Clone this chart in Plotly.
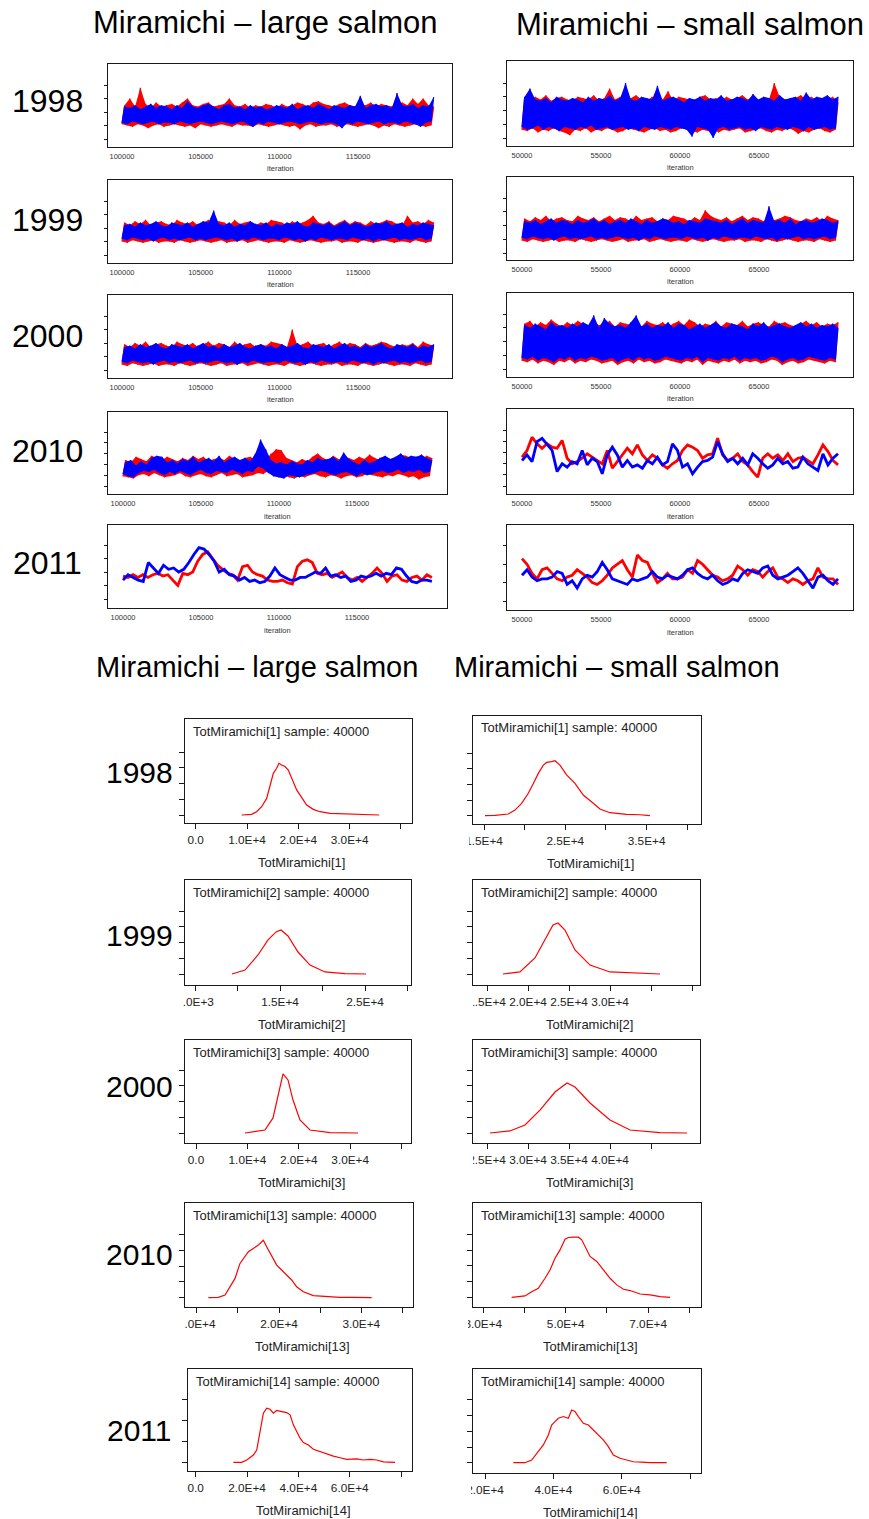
import numpy as np
import plotly.graph_objects as go

W, H = 869, 1519
FONT = "Liberation Sans, Arial, Helvetica, sans-serif"
RED, BLUE, INK = "#ff0000", "#0000ff", "#1a1a1a"

# ---------------- MCMC trace chains ----------------
# All trace values are in tenths of one y-tick interval of their panel.
# Fast-mixing chains: the low and high excursions of each chain, per iteration bin.
large_1998_blue_hi = [24,23,25,22,24,26,23,25,24,22,25,23,28,24,23,25,26,24,22,25,26,23,24,22,25,23,24,22,23,25,
                      24,23,26,22,24,25,23,26,24,22,25,24,23,25,24,32,23,25,26,24,25,23,34,25,24,26,23,25,24,31]
large_1998_blue_lo = [12,11,13,12,11,12,13,11,12,12,11,13,12,11,12,13,12,11,12,13,12,11,12,13,11,9,12,11,13,12,
                      11,12,13,12,11,12,13,12,11,12,12,11,8,12,11,13,12,11,12,13,11,12,12,11,13,12,11,9,12,13]
large_1998_red_hi = [25,30,24,38,26,23,27,24,25,26,24,27,30,25,24,26,27,24,25,26,30,25,24,26,23,25,24,26,25,23,
                     26,24,25,27,26,24,27,28,26,25,24,26,27,25,24,26,25,27,24,26,25,24,26,27,25,30,26,30,25,24]
large_1998_red_lo = [11,10,9,11,10,8,10,11,9,10,11,10,9,10,8,11,10,9,10,11,10,9,11,10,10,9,11,10,9,10,
                     11,10,9,10,7,10,11,9,10,10,11,9,10,11,10,9,10,11,10,8,10,9,11,10,9,10,11,10,9,10]

small_1998_blue_hi = [30,36,28,27,29,26,30,28,27,29,28,26,30,27,29,28,31,27,29,40,28,27,30,29,28,38,27,29,30,28,
                      26,29,28,30,27,29,28,31,27,28,30,29,27,32,28,30,29,27,31,28,29,30,27,33,28,30,29,31,28,30]
small_1998_blue_lo = [8,6,7,9,6,8,7,5,8,7,6,8,7,9,6,7,8,6,7,8,6,7,5,8,7,6,8,7,6,8,
                      7,6,1,8,7,6,0,7,8,6,7,8,6,7,5,8,7,6,8,7,6,8,7,5,8,6,7,8,6,7]
small_1998_red_hi = [29,27,30,28,31,27,29,30,28,27,30,29,28,31,27,29,36,28,30,27,29,31,28,27,30,29,28,34,27,30,
                     29,28,27,30,31,28,29,27,30,28,29,31,28,30,27,29,28,40,30,28,27,29,31,28,30,27,29,28,30,26]
small_1998_red_lo = [6,5,7,4,6,5,7,5,4,2,6,5,7,4,6,5,7,6,4,5,7,6,5,4,6,7,5,6,4,5,
                     7,6,5,4,6,5,7,4,6,5,6,7,4,5,6,7,5,4,6,5,7,6,3,5,4,6,7,5,4,6]

large_1999_blue_hi = [22,23,21,24,22,23,25,22,21,24,23,22,24,21,23,25,24,33,23,22,24,21,23,22,25,23,22,24,21,23,
                      22,24,23,25,22,21,24,23,22,24,21,23,25,22,24,23,21,22,24,23,25,22,23,24,21,23,22,24,23,22]
large_1999_blue_lo = [12,11,13,12,11,12,10,12,13,11,12,11,12,13,11,12,11,12,13,12,11,12,10,12,11,13,12,11,12,12,
                      11,13,12,11,12,10,12,11,13,12,11,12,12,11,13,12,11,12,10,12,11,12,13,11,12,11,12,13,11,12]
large_1999_red_hi = [24,22,25,23,26,22,24,25,23,22,26,24,23,25,22,24,26,23,25,24,22,26,23,24,25,22,24,23,26,25,
                     24,22,25,23,24,26,29,24,23,25,22,24,26,23,25,24,22,25,23,24,26,25,23,22,29,24,25,23,26,24]
large_1999_red_lo = [10,9,11,10,9,10,11,9,10,10,9,11,10,9,10,11,10,9,10,11,9,10,10,11,9,10,11,10,9,10,
                     10,9,11,10,9,10,11,10,9,10,10,11,9,10,10,9,11,10,9,10,11,10,9,10,10,9,11,10,9,10]

small_1999_blue_hi = [23,22,24,21,23,25,22,24,23,21,24,22,23,25,22,24,21,23,24,22,25,23,21,24,22,23,25,24,22,23,
                      21,24,23,22,25,24,23,22,24,21,23,25,22,24,23,22,34,23,24,22,25,21,23,24,22,23,25,24,22,23]
small_1999_blue_lo = [11,10,12,11,10,11,9,11,12,10,11,10,11,12,10,11,10,11,12,11,10,11,9,11,10,12,11,10,11,11,
                      10,12,11,10,11,9,11,10,12,11,10,11,11,10,12,11,10,11,9,11,10,11,12,10,11,10,11,12,10,11]
small_1999_red_hi = [25,23,26,24,27,23,25,26,24,23,27,25,24,26,23,25,27,24,26,25,23,27,24,25,26,23,25,24,27,26,
                     25,23,26,24,31,27,25,24,26,23,25,27,24,26,25,23,26,24,25,27,26,24,23,25,24,26,23,27,25,24]
small_1999_red_lo = [9,8,10,9,8,9,10,8,9,9,8,10,9,8,9,10,9,8,9,10,8,9,9,10,8,9,10,9,8,9,
                     9,8,10,9,8,9,10,9,8,9,9,10,8,9,9,8,10,9,8,9,10,9,8,9,9,8,10,9,8,9]

large_2000_blue_hi = [17,18,16,19,17,18,20,17,16,19,18,17,19,16,18,20,17,18,16,19,17,18,20,17,16,18,19,17,18,16,
                      19,17,18,20,17,16,19,18,17,19,16,18,20,17,18,16,19,17,18,20,17,16,19,18,17,19,16,18,17,19]
large_2000_blue_lo = [6,5,7,6,5,6,4,6,7,5,6,5,6,7,5,6,5,6,7,6,5,6,4,6,5,7,6,5,6,6,
                      5,7,6,5,6,4,6,5,7,6,5,6,6,5,7,6,5,6,4,6,5,6,7,5,6,5,6,7,5,6]
large_2000_red_hi = [19,17,20,18,21,17,19,20,18,17,21,19,18,20,17,19,21,18,20,19,17,21,18,19,20,17,19,18,21,20,
                     19,17,30,18,19,21,18,19,20,17,19,21,18,20,19,17,20,18,19,21,20,18,17,19,18,20,17,21,19,18]
large_2000_red_lo = [4,3,5,4,3,4,5,3,4,4,3,5,4,3,4,5,4,3,4,5,3,4,4,5,3,4,5,4,3,4,
                     4,3,5,4,3,4,5,4,3,4,4,5,3,4,4,3,5,4,3,4,5,4,3,4,4,3,5,4,3,4]

small_2000_blue_hi = [32,30,33,31,29,34,31,32,30,33,31,34,32,39,30,37,33,31,32,30,34,39,31,33,30,32,31,34,30,33,
                      32,29,31,33,30,32,34,31,30,33,32,31,29,33,31,34,30,32,33,31,30,32,34,31,33,30,32,31,33,30]
small_2000_blue_lo = [8,7,9,6,8,7,5,8,7,9,6,8,7,9,8,6,7,8,5,7,8,6,9,7,8,6,7,9,8,7,
                      6,8,7,9,5,8,7,6,8,7,9,6,8,7,8,6,7,9,8,5,7,8,6,7,9,8,7,6,8,7]
small_2000_red_hi = [33,35,31,34,32,36,33,31,34,32,35,33,31,34,32,33,35,31,34,33,32,34,31,35,33,32,34,31,33,35,
                     32,36,34,31,33,32,35,31,34,33,32,35,31,33,34,32,31,35,33,34,32,31,33,35,32,34,31,33,32,34]
small_2000_red_lo = [6,5,7,4,6,5,3,6,5,7,4,6,5,7,6,4,5,6,3,5,6,4,7,5,6,4,5,7,6,5,
                     4,6,5,7,3,6,5,4,6,5,7,4,6,5,6,4,5,7,6,3,5,6,4,5,7,6,5,4,6,5]

large_2010_blue_hi = [22,24,19,23,20,26,28,27,22,24,21,25,23,27,22,24,26,23,28,22,25,27,24,26,23,30,43,34,24,21,
                      22,20,23,21,20,24,22,26,24,25,27,23,31,25,22,20,24,21,23,26,28,25,27,30,26,28,27,29,26,24]
large_2010_blue_lo = [11,9,8,12,14,13,15,12,10,13,11,14,12,10,13,15,12,11,14,13,12,15,13,11,14,13,18,16,12,9,
                      8,7,10,9,8,10,11,12,14,13,11,10,12,13,11,9,12,10,11,13,14,12,13,15,12,14,13,15,12,13]
large_2010_red_hi = [24,22,27,25,23,28,26,24,27,25,23,26,24,28,25,27,23,25,26,24,28,25,23,26,27,24,26,25,30,34,
                     33,26,24,22,25,23,27,30,26,24,28,25,23,26,24,27,25,29,26,24,27,25,26,29,28,26,27,25,28,26]
large_2010_red_lo = [9,8,7,10,11,9,12,10,8,9,10,12,9,8,10,11,9,8,10,12,9,10,11,8,9,10,12,11,14,16,
                     15,10,8,7,9,8,10,11,9,8,10,9,7,9,10,8,9,11,10,9,8,10,9,11,10,8,9,6,8,9]

# Slow-mixing chains: the chain path itself.
small_2010_red = [26,32,44,38,34,38,35,34,41,25,20,22,25,29,26,23,20,32,16,22,28,34,29,37,28,23,28,25,19,16,20,23,
                  32,37,35,32,25,28,29,43,28,23,25,29,22,19,13,8,25,29,25,28,23,29,22,25,26,23,20,28,37,31,23,19]
small_2010_blue = [23,28,22,40,43,38,32,13,20,17,22,20,32,19,25,22,11,28,35,28,17,23,17,19,16,23,20,26,19,22,38,32,
                   17,20,11,17,22,23,26,40,29,22,25,20,25,19,29,25,20,16,19,25,20,22,16,17,26,20,17,14,29,19,25,29]
large_2011_red = [17,16,18,16,18,16,18,19,17,18,14,10,19,18,20,28,33,35,30,25,22,19,18,14,24,25,20,18,17,14,13,13,
                  14,12,11,24,28,29,27,19,18,19,16,18,20,16,14,16,13,16,19,23,19,13,17,18,14,13,16,17,14,18,16]
large_2011_blue = [14,18,16,14,13,27,23,19,25,22,23,20,22,27,33,38,37,33,28,20,22,18,17,14,16,13,14,12,13,17,23,18,
                   16,14,14,16,16,18,20,19,23,17,18,16,17,13,14,17,16,17,19,17,19,18,23,22,17,13,12,14,14,13]
small_2011_red = [23,20,15,12,17,18,15,12,11,13,14,17,15,13,10,9,11,14,18,20,22,17,13,25,22,21,15,10,12,15,12,12,
                  13,17,15,22,20,17,14,13,11,12,14,19,17,14,17,16,13,16,18,13,12,10,12,11,9,11,12,18,13,12,12,9]
small_2011_blue = [14,17,13,11,12,12,13,16,15,9,11,7,12,14,13,16,21,17,12,11,10,9,12,11,12,13,16,13,12,14,13,12,
                   14,17,18,15,13,12,14,11,9,10,12,11,15,17,16,15,18,19,14,12,13,14,16,18,15,11,7,13,14,11,9,12]

large_iter = (100000, 119800)
small_iter = (50000, 70000)

# ---------------- posterior densities (y in y-tick units) ----------------
dens_large_1998_x = [8960,10910,11880,12860,13830,14480,15130,15780,16230,16750,17400,18050,18700,19680,20650,21620,22920,24220,26170,30070,33310,35780]
dens_large_1998_y = [0,0.04,0.21,0.53,1.06,1.81,2.66,2.98,3.30,3.19,3.09,2.87,2.34,1.60,1.13,0.64,0.36,0.21,0.11,0.06,0.02,0]
dens_small_1998_x = [15120,16350,17990,18810,19630,20450,21070,21680,22300,22710,23320,23730,24340,25160,26190,27210,28440,29260,30490,32540,34180,34800,35410]
dens_small_1998_y = [0,0.02,0.11,0.36,0.79,1.43,2.06,2.70,3.23,3.40,3.45,3.51,3.23,2.60,2.06,1.32,0.79,0.43,0.19,0.09,0.06,0.02,0]
dens_large_1999_x = [9350,10880,12410,13590,14530,15120,15940,17120,18530,20290,22650,25120]
dens_large_1999_y = [0,0.25,1.21,2.17,2.68,2.80,2.42,1.40,0.57,0.13,0.02,0]
dens_small_1999_x = [16950,19020,20850,22070,23050,23660,24510,25730,27560,30000,36100]
dens_small_1999_y = [0,0.13,1.02,2.17,3.12,3.25,2.80,1.53,0.57,0.13,0]
dens_large_2000_x = [9530,13420,14980,15950,16930,17900,18870,20230,22180,26070,31520]
dens_large_2000_y = [0,0.19,0.96,2.42,3.76,3.38,2.10,0.83,0.19,0.02,0]
dens_small_2000_x = [25370,27800,29630,31460,33290,34760,35730,37560,40000,42440,46100,49390]
dens_small_2000_y = [0,0.13,0.51,1.46,2.61,3.18,2.93,1.91,0.83,0.19,0.02,0]
dens_large_2010_x = [11420,12630,13440,14050,14660,15260,15670,16280,16880,17490,17900,18100,18500,19110,19720,20320,20930,21540,22150,22960,24170,25790,27410,29030,30650,31260]
dens_large_2010_y = [0,0.02,0.17,0.69,1.22,2.17,2.48,2.91,3.12,3.33,3.54,3.64,3.22,2.59,2.06,1.75,1.43,1.12,0.69,0.38,0.13,0.06,0.02,0.02,0.02,0]
dens_small_2010_x = [36880,38500,40120,41740,43360,44980,46190,47410,48620,49840,50650,51860,53080,53890,54700,55910,57530,59150,60770,62390,64010,65630,68060,70490,72920,75340]
dens_small_2010_y = [0,0.04,0.09,0.36,0.57,1.21,1.74,2.49,3.02,3.70,3.81,3.83,3.83,3.66,3.23,2.60,2.28,1.74,1.21,0.79,0.51,0.43,0.21,0.15,0.04,0]
dens_large_2011_x = [14680,17920,19870,22470,23770,25070,26360,27660,28960,30260,31560,33510,35460,36750,38050,39350,40650,41950,43900,45840,48440,51040,53640,56230,58830,62730,65330,67920,70520,73120,77660]
dens_large_2011_y = [0,0,0.11,0.35,0.59,1.56,2.36,2.60,2.55,2.36,2.49,2.44,2.39,2.28,1.80,1.48,1.16,0.95,0.83,0.63,0.51,0.39,0.30,0.22,0.14,0.16,0.11,0.14,0.11,0.02,0]
dens_small_2011_x = [28290,31710,33660,35120,37070,38540,39510,40490,41460,42930,44390,45370,46340,47320,48780,50240,51710,53170,54630,56100,57560,59510,61460,63410,65850,68290,73170]
dens_small_2011_y = [0,0,0.17,0.60,1.13,1.77,2.40,2.62,2.83,2.94,2.83,3.36,3.26,2.94,2.51,2.40,2.09,1.77,1.45,1.02,0.49,0.28,0.17,0.06,0.04,0,0]

years = ["1998", "1999", "2000", "2010", "2011"]
node_index = ["1", "2", "3", "13", "14"]
title_large = "Miramichi – large salmon"
title_small = "Miramichi – small salmon"
large_iter_ticks = [100000, 105000, 110000, 115000]
small_iter_ticks = [50000, 55000, 60000, 65000]

fig = go.Figure()
annotations = []
shapes = []
counter = [0]


def new_axes(box, xr, yr, xkw, ykw):
    counter[0] += 1
    n = counter[0]
    sx = "" if n == 1 else str(n)
    x0, y0, x1, y1 = box
    base = dict(showline=True, mirror=True, linecolor=INK, linewidth=1, showgrid=False,
                zeroline=False, fixedrange=True, tickcolor=INK, automargin=False)
    fig.update_layout(**{
        "xaxis" + sx: dict(base, domain=[x0 / W, x1 / W], range=xr, anchor="y" + sx, **xkw),
        "yaxis" + sx: dict(base, domain=[1 - y1 / H, 1 - y0 / H], range=yr, anchor="x" + sx, **ykw),
    })
    return "x" + sx, "y" + sx


def px_range(a, b, p0, v0, px_per_unit):
    return [v0 + (a - p0) / px_per_unit, v0 + (b - p0) / px_per_unit]


def text(x, y, s, size, anchor="center", color="#000"):
    annotations.append(dict(x=x / W, y=1 - y / H, xref="paper", yref="paper", text=s, showarrow=False,
                            xanchor=anchor, yanchor="middle", font=dict(family=FONT, size=size, color=color)))


def add_band_chain(lo, hi, it0, it1, col, xa, ya):
    """Excursion band of a fast-mixing chain, with the chain zig-zagging between its extremes."""
    xs = np.linspace(it0, it1, 2 * len(lo))
    x_lo, x_hi = xs[0::2], xs[1::2]
    fig.add_trace(go.Scatter(x=np.concatenate([x_hi, x_lo[::-1]]), y=list(hi) + list(lo)[::-1],
                             mode="lines", fill="toself", fillcolor=col, line=dict(width=0),
                             xaxis=xa, yaxis=ya, showlegend=False, hoverinfo="skip"))
    path = []
    for a, b in zip(lo, hi):
        path += [a, b]
    fig.add_trace(go.Scatter(x=xs, y=path, mode="lines", line=dict(color=col, width=1.2),
                             xaxis=xa, yaxis=ya, showlegend=False, hoverinfo="skip"))


def add_path_chain(vals, it0, it1, col, xa, ya):
    fig.add_trace(go.Scatter(x=np.linspace(it0, it1, len(vals)), y=vals, mode="lines",
                             line=dict(color=col, width=2.8), xaxis=xa, yaxis=ya,
                             showlegend=False, hoverinfo="skip"))


# ---------------- trace panels ----------------
# (column, box, first tick px, px per iteration, baseline y-tick px, px per y tick, n y ticks, chains)
trace_specs = [
    ("large", (108, 64, 452, 147), 122, 78.7 / 5000, 139, 13.5, 5,
     ("band", large_1998_red_lo, large_1998_red_hi, large_1998_blue_lo, large_1998_blue_hi)),
    ("large", (108, 180, 452, 263), 122, 78.7 / 5000, 255, 13.5, 5,
     ("band", large_1999_red_lo, large_1999_red_hi, large_1999_blue_lo, large_1999_blue_hi)),
    ("large", (108, 295, 452, 378), 122, 78.7 / 5000, 370, 13.5, 5,
     ("band", large_2000_red_lo, large_2000_red_hi, large_2000_blue_lo, large_2000_blue_hi)),
    ("large", (108, 412, 447, 494), 123, 78.0 / 5000, 486, 10.8, 6,
     ("band", large_2010_red_lo, large_2010_red_hi, large_2010_blue_lo, large_2010_blue_hi)),
    ("large", (108, 525, 447, 608), 123, 78.0 / 5000, 599, 13.5, 5, ("path", large_2011_red, large_2011_blue)),
    ("small", (507, 61, 853, 146), 522, 79.0 / 5000, 138, 13.75, 5,
     ("band", small_1998_red_lo, small_1998_red_hi, small_1998_blue_lo, small_1998_blue_hi)),
    ("small", (507, 177, 853, 260), 522, 79.0 / 5000, 253, 13.75, 5,
     ("band", small_1999_red_lo, small_1999_red_hi, small_1999_blue_lo, small_1999_blue_hi)),
    ("small", (507, 293, 853, 377), 522, 79.0 / 5000, 369, 13.75, 5,
     ("band", small_2000_red_lo, small_2000_red_hi, small_2000_blue_lo, small_2000_blue_hi)),
    ("small", (507, 409, 853, 494), 522, 79.0 / 5000, 486, 11.1, 6, ("path", small_2010_red, small_2010_blue)),
    ("small", (507, 525, 853, 610), 522, 79.0 / 5000, 601, 18.4, 4, ("path", small_2011_red, small_2011_blue)),
]

for size, box, p0, s, base_px, tick_px, nt, chains in trace_specs:
    x0, y0, x1, y1 = box
    it0, it1 = large_iter if size == "large" else small_iter
    ticks = large_iter_ticks if size == "large" else small_iter_ticks
    xr = px_range(x0, x1, p0, ticks[0], s)
    yr = [-(y1 - base_px) / tick_px * 10, (base_px - y0) / tick_px * 10]
    xa, ya = new_axes(
        box, xr, yr,
        dict(tickmode="array", tickvals=ticks, ticktext=[str(t) for t in ticks], ticks="",
             tickfont=dict(family=FONT, size=7.5, color="#333"), ticklabelstandoff=2),
        dict(tickmode="array", tickvals=[10 * k for k in range(nt)], showticklabels=False,
             ticks="outside", ticklen=3),
    )
    if chains[0] == "band":
        _, rlo, rhi, blo, bhi = chains
        add_band_chain(rlo, rhi, it0, it1, RED, xa, ya)
        add_band_chain(blo, bhi, it0, it1, BLUE, xa, ya)
    else:
        _, red, blue = chains
        add_path_chain(red, it0, it1, RED, xa, ya)
        add_path_chain(blue, it0, it1, BLUE, xa, ya)
    text((x0 + x1) / 2, y1 + 22, "iteration", 7.5, color="#333")


# ---------------- density panels ----------------
def lab(v):
    return "0.0" if v == 0 else "%.1fE+%d" % (v / 10 ** int(np.log10(v)), int(np.log10(v)))


# (box, ref tick px, ref tick value, px per 10000, baseline px, px per y tick, n y ticks,
#  x tick values, labelled ticks, data x, data y, left crop edge px)
dens_specs = [
    ((185, 719, 412, 823), 195.7, 0, 51.3, 815, 15.67, 5,
     [0, 10000, 20000, 30000, 40000], [0, 10000, 20000, 30000], dens_large_1998_x, dens_large_1998_y, 160),
    ((473, 716, 701, 824), 484, 15000, 81.3, 815.7, 15.67, 5,
     [15000, 20000, 25000, 30000, 35000, 40000], [15000, 25000, 35000], dens_small_1998_x, dens_small_1998_y, 469),
    ((185, 880, 411, 985), 195, 5000, 85, 974, 15.7, 5,
     [5000, 10000, 15000, 20000, 25000, 30000], [5000, 15000, 25000], dens_large_1999_x, dens_large_1999_y, 183),
    ((473, 880, 700, 985), 487, 15000, 82, 974, 15.7, 5,
     [15000, 20000, 25000, 30000, 35000, 40000], [15000, 20000, 25000, 30000], dens_small_1999_x, dens_small_1999_y, 473),
    ((185, 1040, 411, 1143), 196, 0, 51.4, 1133, 15.7, 5,
     [0, 10000, 20000, 30000, 40000], [0, 10000, 20000, 30000], dens_large_2000_x, dens_large_2000_y, 160),
    ((473, 1040, 700, 1143), 487, 25000, 82, 1133, 15.7, 5,
     [25000, 30000, 35000, 40000, 45000], [25000, 30000, 35000, 40000], dens_small_2000_x, dens_small_2000_y, 473),
    ((185, 1203, 413, 1307), 196.7, 10000, 82.3, 1297.7, 15.8, 5,
     [10000, 15000, 20000, 25000, 30000, 35000], [10000, 20000, 30000], dens_large_2010_x, dens_large_2010_y, 184),
    ((473, 1203, 701, 1307), 483.3, 30000, 41.2, 1297.3, 15.7, 5,
     [30000, 40000, 50000, 60000, 70000, 80000], [30000, 50000, 70000], dens_small_2010_x, dens_small_2010_y, 468),
    ((188, 1369, 412, 1471), 195.7, 0, 25.67, 1462.3, 20.8, 4,
     [0, 20000, 40000, 60000, 80000], [0, 20000, 40000, 60000], dens_large_2011_x, dens_large_2011_y, 160),
    ((473, 1369, 701, 1473), 485, 20000, 34.17, 1462.7, 15.7, 5,
     [20000, 40000, 60000, 80000], [20000, 40000, 60000], dens_small_2011_x, dens_small_2011_y, 471),
]

for i, (box, p0, v0, s, base_px, tick_px, nt, tv, labelled, dx, dy, clip) in enumerate(dens_specs):
    x0, y0, x1, y1 = box
    xr = px_range(x0, x1, p0, v0, s / 10000)
    yr = [-(y1 - base_px) / tick_px, (base_px - y0) / tick_px]
    xa, ya = new_axes(
        box, xr, yr,
        dict(tickmode="array", tickvals=tv, ticktext=[lab(v) if v in labelled else "" for v in tv],
             ticks="outside", ticklen=5, tickangle=0, tickfont=dict(family=FONT, size=11.8, color="#222"),
             ticklabelstandoff=1),
        dict(tickmode="array", tickvals=list(range(nt)), showticklabels=False, ticks="outside", ticklen=5),
    )
    fig.add_trace(go.Scatter(x=dx, y=dy, mode="lines", line=dict(color=RED, width=1.2),
                             xaxis=xa, yaxis=ya, showlegend=False, hoverinfo="skip"))
    node = "TotMiramichi[%s]" % node_index[i // 2]
    text(x0 + 6, y0 + 12, node + " sample: 40000", 13, anchor="left", color="#222")
    text((x0 + x1) / 2 + 3, y1 + 39, node, 13, color="#222")
    # the panel images are cropped on the left, cutting into the first tick label
    shapes.append(dict(type="rect", xref="paper", yref="paper", layer="above",
                       x0=(clip - 30) / W, x1=clip / W, y0=1 - (y1 + 26) / H, y1=1 - (y1 + 7) / H,
                       fillcolor="white", line=dict(width=0)))

# ---------------- headings ----------------
text(265, 22, title_large, 31)
text(690, 24, title_small, 31)
text(257, 667, title_large, 29)
text(617, 667, title_small, 29)
for yr_label, yt, yb in zip(years, [101, 220, 336, 451, 563], [772, 935, 1086, 1254, 1430]):
    text(47, yt, yr_label, 32)
    text(139, yb, yr_label, 30)

fig.update_layout(width=W, height=H, margin=dict(l=0, r=0, t=0, b=0, pad=0, autoexpand=False),
                  paper_bgcolor="white", plot_bgcolor="white", annotations=annotations, shapes=shapes,
                  showlegend=False)
fig.write_html("out.html")
